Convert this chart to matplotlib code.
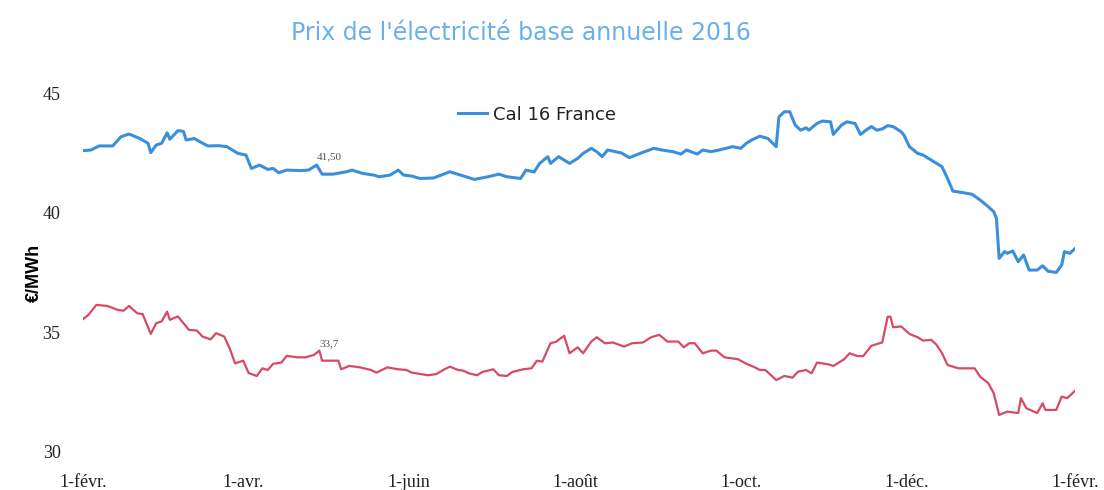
import matplotlib
matplotlib.use("Agg")
import matplotlib.pyplot as plt
import pandas as pd

# ---- data ----
fr_dates = ["2015-02-01","2015-02-04","2015-02-07","2015-02-12","2015-02-15","2015-02-18","2015-02-22",
            "2015-02-25","2015-02-26","2015-02-28","2015-03-02","2015-03-04","2015-03-05","2015-03-08",
            "2015-03-10","2015-03-11","2015-03-14","2015-03-16","2015-03-19","2015-03-23","2015-03-26",
            "2015-03-30","2015-04-02","2015-04-04","2015-04-07","2015-04-10","2015-04-12","2015-04-14",
            "2015-04-17","2015-04-22","2015-04-25","2015-04-28","2015-04-30","2015-05-04","2015-05-09",
            "2015-05-11","2015-05-15","2015-05-19","2015-05-21","2015-05-25","2015-05-28","2015-05-30",
            "2015-06-02","2015-06-05","2015-06-10","2015-06-16","2015-06-21","2015-06-25","2015-06-30",
            "2015-07-04","2015-07-07","2015-07-12","2015-07-14","2015-07-17","2015-07-19","2015-07-22",
            "2015-07-23","2015-07-26","2015-07-28","2015-07-30","2015-08-02","2015-08-04","2015-08-07",
            "2015-08-09","2015-08-11","2015-08-13","2015-08-18","2015-08-21","2015-08-25","2015-08-30",
            "2015-09-02","2015-09-06","2015-09-09","2015-09-11","2015-09-15","2015-09-17","2015-09-20",
            "2015-09-23","2015-09-28","2015-10-01","2015-10-03","2015-10-05","2015-10-08","2015-10-11",
            "2015-10-14","2015-10-15","2015-10-17","2015-10-19","2015-10-21","2015-10-23","2015-10-25",
            "2015-10-26","2015-10-29","2015-10-31","2015-11-03","2015-11-04","2015-11-07","2015-11-09",
            "2015-11-12","2015-11-14","2015-11-16","2015-11-18","2015-11-20","2015-11-22","2015-11-24",
            "2015-11-26","2015-11-29","2015-11-30","2015-12-02","2015-12-05","2015-12-07","2015-12-10",
            "2015-12-12","2015-12-14","2015-12-16","2015-12-18","2015-12-21","2015-12-25","2015-12-28",
            "2015-12-31","2016-01-02","2016-01-03","2016-01-04","2016-01-06","2016-01-07","2016-01-09",
            "2016-01-11","2016-01-13","2016-01-15","2016-01-18","2016-01-20","2016-01-22","2016-01-25",
            "2016-01-27","2016-01-28","2016-01-30","2016-02-01"]
fr_values = [42.59,42.62,42.79,42.79,43.17,43.29,43.10,
             42.90,42.51,42.83,42.90,43.34,43.07,43.43,
             43.40,43.04,43.10,42.97,42.79,42.80,42.76,
             42.48,42.41,41.85,41.99,41.81,41.85,41.67,
             41.78,41.76,41.78,41.99,41.61,41.61,41.71,
             41.78,41.64,41.57,41.50,41.57,41.78,41.57,
             41.53,41.43,41.45,41.71,41.53,41.39,41.50,
             41.61,41.50,41.43,41.78,41.70,42.06,42.34,
             42.06,42.34,42.20,42.06,42.27,42.48,42.69,
             42.55,42.34,42.62,42.50,42.30,42.48,42.69,
             42.62,42.55,42.45,42.62,42.45,42.62,42.55,
             42.62,42.76,42.69,42.90,43.04,43.20,43.10,
             42.76,44.00,44.22,44.22,43.66,43.45,43.55,
             43.45,43.73,43.83,43.80,43.27,43.66,43.80,
             43.73,43.27,43.45,43.60,43.45,43.50,43.64,
             43.60,43.38,43.24,42.76,42.48,42.41,42.20,
             42.06,41.92,41.43,40.90,40.85,40.77,40.53,
             40.25,40.04,39.76,38.09,38.37,38.30,38.40,
             37.95,38.23,37.60,37.60,37.78,37.55,37.50,
             37.81,38.37,38.30,38.51]

de_dates = ["2015-02-01","2015-02-03","2015-02-06","2015-02-10","2015-02-14","2015-02-16","2015-02-18",
            "2015-02-21","2015-02-23","2015-02-26","2015-02-28","2015-03-02","2015-03-04","2015-03-05",
            "2015-03-08","2015-03-10","2015-03-12","2015-03-15","2015-03-17","2015-03-20","2015-03-22",
            "2015-03-25","2015-03-27","2015-03-29","2015-04-01","2015-04-03","2015-04-06","2015-04-08",
            "2015-04-10","2015-04-12","2015-04-15","2015-04-17","2015-04-21","2015-04-24","2015-04-27",
            "2015-04-29","2015-04-30","2015-05-04","2015-05-06","2015-05-07","2015-05-10","2015-05-14",
            "2015-05-18","2015-05-20","2015-05-24","2015-05-28","2015-05-31","2015-06-02","2015-06-08",
            "2015-06-11","2015-06-14","2015-06-16","2015-06-19","2015-06-21","2015-06-23","2015-06-26",
            "2015-06-28","2015-07-02","2015-07-04","2015-07-07","2015-07-09","2015-07-13","2015-07-16",
            "2015-07-18","2015-07-20","2015-07-23","2015-07-25","2015-07-28","2015-07-30","2015-08-02",
            "2015-08-04","2015-08-07","2015-08-09","2015-08-12","2015-08-15","2015-08-19","2015-08-22",
            "2015-08-26","2015-08-29","2015-09-01","2015-09-04","2015-09-08","2015-09-10","2015-09-12",
            "2015-09-14","2015-09-17","2015-09-20","2015-09-22","2015-09-25","2015-09-30","2015-10-03",
            "2015-10-06","2015-10-08","2015-10-10","2015-10-12","2015-10-14","2015-10-17","2015-10-20",
            "2015-10-22","2015-10-25","2015-10-27","2015-10-29","2015-11-02","2015-11-04","2015-11-08",
            "2015-11-10","2015-11-13","2015-11-15","2015-11-18","2015-11-21","2015-11-22","2015-11-24",
            "2015-11-25","2015-11-26","2015-11-29","2015-12-02","2015-12-05","2015-12-07","2015-12-10",
            "2015-12-12","2015-12-14","2015-12-16","2015-12-20","2015-12-23","2015-12-26","2015-12-28",
            "2015-12-31","2016-01-02","2016-01-04","2016-01-07","2016-01-11","2016-01-12","2016-01-14",
            "2016-01-18","2016-01-20","2016-01-21","2016-01-25","2016-01-27","2016-01-29","2016-02-01"]
de_values = [35.54,35.72,36.14,36.10,35.93,35.90,36.10,
             35.79,35.76,34.93,35.38,35.45,35.86,35.52,
             35.66,35.38,35.10,35.07,34.82,34.70,34.96,
             34.82,34.33,33.70,33.81,33.29,33.17,33.49,
             33.42,33.68,33.73,34.01,33.95,33.95,34.05,
             34.23,33.81,33.81,33.81,33.45,33.59,33.53,
             33.42,33.31,33.53,33.45,33.42,33.31,33.20,
             33.25,33.45,33.56,33.42,33.39,33.28,33.20,
             33.34,33.45,33.20,33.17,33.34,33.45,33.49,
             33.81,33.77,34.54,34.60,34.85,34.12,34.37,
             34.12,34.61,34.79,34.54,34.57,34.40,34.54,
             34.57,34.79,34.89,34.61,34.61,34.37,34.54,
             34.54,34.12,34.23,34.23,33.95,33.87,33.68,
             33.54,33.42,33.42,33.21,33.00,33.17,33.10,
             33.35,33.42,33.28,33.73,33.66,33.59,33.87,
             34.12,34.00,34.00,34.43,34.54,34.57,35.65,
             35.65,35.21,35.24,34.93,34.79,34.65,34.68,
             34.47,34.12,33.63,33.49,33.49,33.49,33.14,
             32.87,32.45,31.54,31.68,31.62,32.24,31.82,
             31.62,32.03,31.75,31.75,32.31,32.24,32.56]

title = "Prix de l'électricité base annuelle 2016"
series_label = "Cal 16 France"
y_label = "€/MWh"
y_ticks = [30, 35, 40, 45]
x_tick_dates = ["2015-02-01", "2015-04-01", "2015-06-01", "2015-08-01",
                "2015-10-01", "2015-12-01", "2016-02-01"]
x_tick_labels = ["1-févr.", "1-avr.", "1-juin", "1-août", "1-oct.", "1-déc.", "1-févr."]
annot_fr = ("2015-04-28", 41.99, "41,50")
annot_de = ("2015-04-29", 34.23, "33,7")

# ---- drawing ----
fig = plt.figure(figsize=(11.04, 4.90), dpi=100)
ax = fig.add_axes([0.075, 0.078, 0.899, 0.732])

fr_x = pd.to_datetime(fr_dates)
de_x = pd.to_datetime(de_dates)
ax.plot(fr_x, fr_values, color="#3a8fdc", lw=2.2, label=series_label, solid_joinstyle="round")
ax.plot(de_x, de_values, color="#d84a63", lw=1.6, solid_joinstyle="round")

ax.set_xlim(pd.Timestamp(x_tick_dates[0]), pd.Timestamp(x_tick_dates[-1]))
ax.set_ylim(30, 45)
ax.set_yticks(y_ticks)
ax.set_yticklabels([str(t) for t in y_ticks], family="Liberation Serif", fontsize=13,
                   color="#222222")
ax.set_xticks(pd.to_datetime(x_tick_dates))
ax.set_xticklabels(x_tick_labels, family="Liberation Serif", fontsize=13, color="#222222")
ax.tick_params(axis="both", length=0)
ax.tick_params(axis="x", pad=16)
ax.tick_params(axis="y", pad=16)
for s in ax.spines.values():
    s.set_visible(False)

ax.set_ylabel(y_label, family="Liberation Sans", fontweight="bold", fontsize=13, labelpad=0)

fig.text(0.472, 0.932, title, ha="center", va="center", color="#6ab0f0", fontsize=17,
         family=["Liberation Sans Narrow", "DejaVu Sans"])

ax.annotate(annot_fr[2], (pd.Timestamp(annot_fr[0]), annot_fr[1]), xytext=(0, 3),
            textcoords="offset points", ha="left", va="bottom", fontsize=8,
            family="Liberation Serif", color="#555555")
ax.annotate(annot_de[2], (pd.Timestamp(annot_de[0]), annot_de[1]), xytext=(0, 2),
            textcoords="offset points", ha="left", va="bottom", fontsize=8,
            family="Liberation Serif", color="#555555")

leg = ax.legend(loc="upper left", bbox_to_anchor=(0.362, 1.01), frameon=False,
                prop={"family": "DejaVu Sans", "size": 13}, handlelength=1.6, handletextpad=0.3)
for t in leg.get_texts():
    t.set_color("#222222")

fig.savefig("out.png", dpi=100)
